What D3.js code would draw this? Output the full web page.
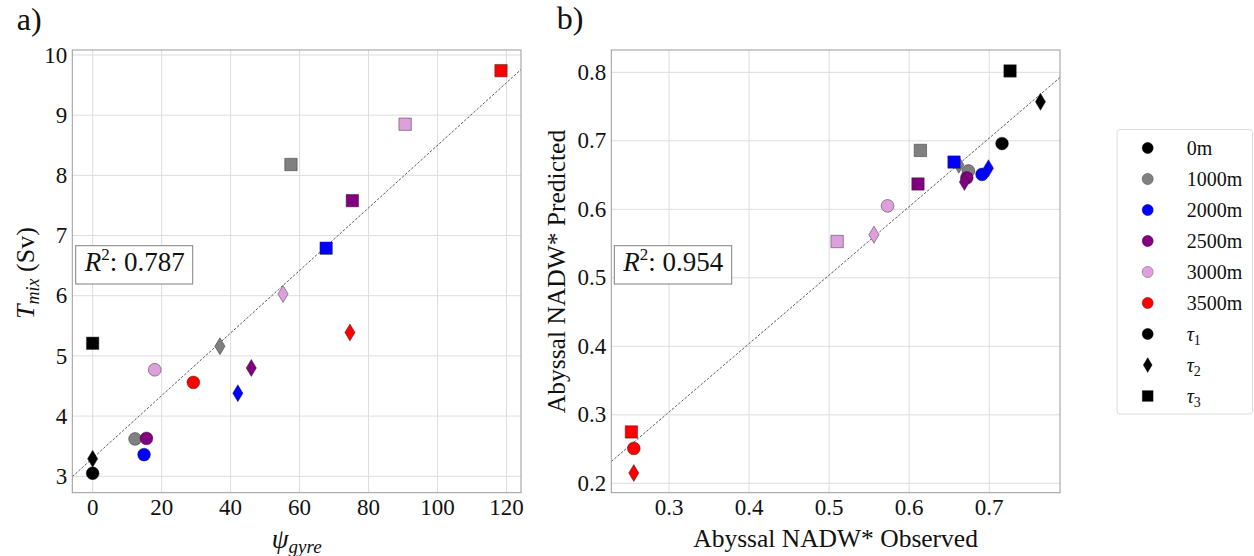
<!DOCTYPE html>
<html>
<head>
<meta charset="utf-8">
<script src="https://cdn.jsdelivr.net/npm/d3@7"></script>
<style>
  html, body { margin: 0; padding: 0; background: #fff; }
  svg { display: block; }
  svg text { font-family: "Liberation Serif", "DejaVu Serif", serif; fill: #111; }
  .grid line { stroke: #dddddd; stroke-width: 1; }
</style>
</head>
<body>
<svg id="chart" width="1254" height="556"></svg>
<script>
// Depth of the mixing anomaly, colour per depth, and wind-stress case (marker shape)
const depths = ["0m", "1000m", "2000m", "2500m", "3000m", "3500m"];
const depthColors = ["#000000", "#808080", "#0000ff", "#800080", "#dda0dd", "#ff0000"];
const tauNames = ["1", "2", "3"];
const tauShapes = ["circle", "diamond", "square"];

// Panel a: gyre strength vs mixing transport, one array per tau case (ordered by depth)
const gyreTau1 = [0, 12.3, 14.9, 15.6, 18.0, 29.2];
const gyreTau2 = [0, 36.9, 42.1, 46.0, 55.2, 74.6];
const gyreTau3 = [0, 57.5, 67.7, 75.3, 90.6, 118.4];
const mixTau1 = [3.05, 3.62, 3.36, 3.63, 4.77, 4.56];
const mixTau2 = [3.29, 5.16, 4.38, 4.80, 6.03, 5.39];
const mixTau3 = [5.21, 8.18, 6.79, 7.58, 8.85, 9.74];

// Panel b: observed vs predicted abyssal NADW*
const obsTau1 = [0.716, 0.674, 0.691, 0.672, 0.573, 0.256];
const obsTau2 = [0.764, 0.662, 0.699, 0.669, 0.556, 0.256];
const obsTau3 = [0.726, 0.614, 0.656, 0.611, 0.510, 0.253];
const predTau1 = [0.696, 0.656, 0.651, 0.646, 0.605, 0.251];
const predTau2 = [0.757, 0.665, 0.660, 0.640, 0.563, 0.215];
const predTau3 = [0.802, 0.686, 0.669, 0.637, 0.553, 0.275];

// Linear fits [slope, intercept] and their R^2
const fitA = [0.052, 3.30];
const fitB = [1.0, 0.004];
const r2A = "0.787";
const r2B = "0.954";

// Tick values
const xTicksA = [0, 20, 40, 60, 80, 100, 120];
const yTicksA = [3, 4, 5, 6, 7, 8, 9, 10];
const xTicksB = [0.3, 0.4, 0.5, 0.6, 0.7];
const yTicksB = [0.2, 0.3, 0.4, 0.5, 0.6, 0.7, 0.8];

const svg = d3.select("#chart");

function buildPoints(xs, ys) {
  const pts = [];
  depths.forEach((d, i) => {
    xs.forEach((arr, t) => {
      pts.push({ x: arr[i], y: ys[t][i], color: depthColors[i], shape: tauShapes[t] });
    });
  });
  return pts;
}

function markerPath(shape, s) {
  if (shape === "circle") {
    const r = 6.4 * s;
    return `M${r},0A${r},${r} 0 1,1 ${-r},0A${r},${r} 0 1,1 ${r},0Z`;
  }
  if (shape === "square") {
    const h = 6.2 * s;
    return `M${-h},${-h}H${h}V${h}H${-h}Z`;
  }
  const w = 5.1 * s, v = 8.5 * s;
  return `M0,${-v}L${w},0L0,${v}L${-w},0Z`;
}

function panel(opts) {
  const { id, x, y, xTicks, yTicks, xFmt, yFmt, points, fit, r2, box } = opts;
  const g = svg.append("g");
  const [x0, x1] = x.range();
  const [y0, y1] = y.range();

  g.append("clipPath").attr("id", id + "-clip")
    .append("rect").attr("x", x0).attr("y", y1).attr("width", x1 - x0).attr("height", y0 - y1);

  // grid
  const grid = g.append("g").attr("class", "grid");
  grid.selectAll(".gx").data(xTicks).join("line")
    .attr("x1", d => x(d)).attr("x2", d => x(d)).attr("y1", y1).attr("y2", y0);
  grid.selectAll(".gy").data(yTicks).join("line")
    .attr("y1", d => y(d)).attr("y2", d => y(d)).attr("x1", x0).attr("x2", x1);

  // tick labels placed by the scales (no tick marks)
  g.append("g").selectAll("text").data(xTicks).join("text")
    .attr("x", d => x(d)).attr("y", y0 + 22.5)
    .attr("text-anchor", "middle").attr("font-size", 23)
    .text(xFmt);
  g.append("g").selectAll("text").data(yTicks).join("text")
    .attr("x", x0 - 5).attr("y", d => y(d) + 7.6)
    .attr("text-anchor", "end").attr("font-size", 23)
    .text(yFmt);

  // fit line
  const xd = x.domain();
  g.append("line")
    .attr("clip-path", `url(#${id}-clip)`)
    .attr("x1", x(xd[0])).attr("y1", y(fit[0] * xd[0] + fit[1]))
    .attr("x2", x(xd[1])).attr("y2", y(fit[0] * xd[1] + fit[1]))
    .attr("stroke", "#333").attr("stroke-width", 0.8).attr("stroke-dasharray", "2.6,1.6");

  // points
  g.append("g").selectAll("path").data(points).join("path")
    .attr("transform", d => `translate(${x(d.x)},${y(d.y)})`)
    .attr("d", d => markerPath(d.shape, 1))
    .attr("fill", d => d.color)
    .attr("stroke", "#222").attr("stroke-opacity", 0.75).attr("stroke-width", 0.6);

  // frame
  g.append("rect").attr("x", x0).attr("y", y1).attr("width", x1 - x0).attr("height", y0 - y1)
    .attr("fill", "none").attr("stroke", "#9a9a9a").attr("stroke-width", 1);

  // R^2 annotation box
  g.append("rect").attr("x", box[0]).attr("y", box[1]).attr("width", box[2]).attr("height", box[3])
    .attr("fill", "#fff").attr("stroke", "#808080").attr("stroke-width", 1);
  const t = g.append("text").attr("x", box[0] + 9).attr("y", box[1] + 25.5)
    .attr("font-size", 27);
  t.append("tspan").attr("font-style", "italic").text("R");
  t.append("tspan").attr("font-size", 17).attr("dy", -11).text("2");
  t.append("tspan").attr("dy", 11).text(": " + r2);
  return g;
}

// ---- Panel a ----
const xA = d3.scaleLinear().domain([-5.9, 124.2]).range([72.3, 521]);
const yA = d3.scaleLinear().domain([2.727, 10.083]).range([492.7, 50]);
panel({
  id: "pa", x: xA, y: yA, xTicks: xTicksA, yTicks: yTicksA,
  xFmt: d3.format("d"), yFmt: d3.format("d"),
  points: buildPoints([gyreTau1, gyreTau2, gyreTau3], [mixTau1, mixTau2, mixTau3]),
  fit: fitA, r2: r2A, box: [75.7, 245.7, 117, 38.3]
});

// ---- Panel b ----
const xB = d3.scaleLinear().domain([0.2279, 0.7884]).range([611.3, 1060]);
const yB = d3.scaleLinear().domain([0.1863, 0.8326]).range([492.7, 50]);
panel({
  id: "pb", x: xB, y: yB, xTicks: xTicksB, yTicks: yTicksB,
  xFmt: d3.format(".1f"), yFmt: d3.format(".1f"),
  points: buildPoints([obsTau1, obsTau2, obsTau3], [predTau1, predTau2, predTau3]),
  fit: fitB, r2: r2B, box: [614.3, 245.7, 117.4, 38.3]
});

// ---- Axis titles ----
const xl = svg.append("text").attr("x", 296.7).attr("y", 548).attr("text-anchor", "middle")
  .attr("font-size", 27);
xl.append("tspan").attr("font-style", "italic").text("ψ");
xl.append("tspan").attr("font-style", "italic").attr("font-size", 19).attr("dy", 5).text("gyre");

const yl = svg.append("text").attr("transform", "translate(33.5,273) rotate(-90)")
  .attr("text-anchor", "middle").attr("font-size", 26);
yl.append("tspan").attr("font-style", "italic").text("T");
yl.append("tspan").attr("font-style", "italic").attr("font-size", 18).attr("dy", 5).text("mix");
yl.append("tspan").attr("dy", -5).text(" (Sv)");

svg.append("text").attr("x", 835.6).attr("y", 546.7).attr("text-anchor", "middle")
  .attr("font-size", 25.5).text("Abyssal NADW* Observed");
svg.append("text").attr("transform", "translate(565,271.5) rotate(-90)").attr("text-anchor", "middle")
  .attr("font-size", 25.5).text("Abyssal NADW* Predicted");

// ---- Panel letters ----
svg.append("text").attr("x", 16.7).attr("y", 30).attr("font-size", 32).text("a)");
svg.append("text").attr("x", 556.7).attr("y", 29).attr("font-size", 32).text("b)");

// ---- Legend ----
const lg = svg.append("g");
lg.append("rect").attr("x", 1117).attr("y", 129.5).attr("width", 135.5).attr("height", 284.5)
  .attr("rx", 3).attr("fill", "#fff").attr("stroke", "#dddddd").attr("stroke-width", 1);
const legendRows = depths.map((d, i) => ({ label: d, color: depthColors[i], shape: "circle", sub: null }))
  .concat(tauNames.map((n, i) => ({ label: "τ", color: "#000000", shape: tauShapes[i], sub: n })));
const rowY = d3.scalePoint().domain(d3.range(legendRows.length)).range([148, 396]);
const rows = lg.selectAll("g.row").data(legendRows).join("g")
  .attr("transform", (d, i) => `translate(0,${rowY(i)})`);
rows.append("path")
  .attr("transform", "translate(1147.7,0)")
  .attr("d", d => markerPath(d.shape, 0.88))
  .attr("fill", d => d.color)
  .attr("stroke", "#222").attr("stroke-opacity", 0.6).attr("stroke-width", 0.5);
rows.each(function (d) {
  const tx = d3.select(this).append("text").attr("x", 1186.7).attr("y", 7)
    .attr("font-size", 20);
  if (d.sub) {
    tx.append("tspan").attr("font-style", "italic").text(d.label);
    tx.append("tspan").attr("font-size", 14).attr("dy", 4).text(d.sub);
  } else {
    tx.text(d.label);
  }
});
</script>
</body>
</html>
